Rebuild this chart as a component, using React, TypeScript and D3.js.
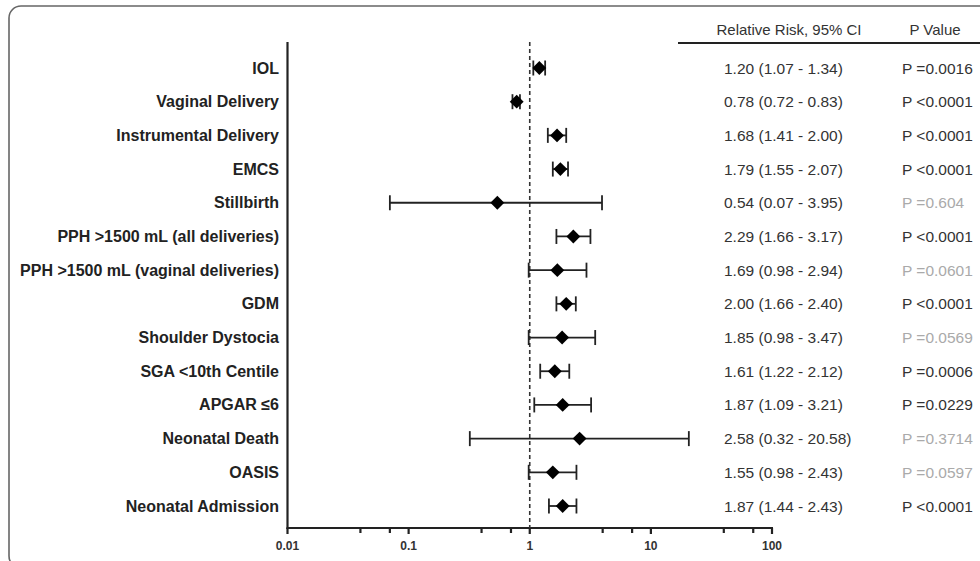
import React from "react";
import * as d3 from "d3";

const outcomes = [
  "IOL",
  "Vaginal Delivery",
  "Instrumental Delivery",
  "EMCS",
  "Stillbirth",
  "PPH >1500 mL (all deliveries)",
  "PPH >1500 mL (vaginal deliveries)",
  "GDM",
  "Shoulder Dystocia",
  "SGA <10th Centile",
  "APGAR ≤6",
  "Neonatal Death",
  "OASIS",
  "Neonatal Admission",
];
const rr = [1.2, 0.78, 1.68, 1.79, 0.54, 2.29, 1.69, 2.0, 1.85, 1.61, 1.87, 2.58, 1.55, 1.87];
const lower = [1.07, 0.72, 1.41, 1.55, 0.07, 1.66, 0.98, 1.66, 0.98, 1.22, 1.09, 0.32, 0.98, 1.44];
const upper = [1.34, 0.83, 2.0, 2.07, 3.95, 3.17, 2.94, 2.4, 3.47, 2.12, 3.21, 20.58, 2.43, 2.43];
const rrText = [
  "1.20 (1.07 - 1.34)",
  "0.78 (0.72 - 0.83)",
  "1.68 (1.41 - 2.00)",
  "1.79 (1.55 - 2.07)",
  "0.54 (0.07 - 3.95)",
  "2.29 (1.66 - 3.17)",
  "1.69 (0.98 - 2.94)",
  "2.00 (1.66 - 2.40)",
  "1.85 (0.98 - 3.47)",
  "1.61 (1.22 - 2.12)",
  "1.87 (1.09 - 3.21)",
  "2.58 (0.32 - 20.58)",
  "1.55 (0.98 - 2.43)",
  "1.87 (1.44 - 2.43)",
];
const pText = [
  "P =0.0016",
  "P <0.0001",
  "P <0.0001",
  "P <0.0001",
  "P =0.604",
  "P <0.0001",
  "P =0.0601",
  "P <0.0001",
  "P =0.0569",
  "P =0.0006",
  "P =0.0229",
  "P =0.3714",
  "P =0.0597",
  "P <0.0001",
];
const significant = [true, true, true, true, false, true, false, true, false, true, true, false, false, true];
const majorTicks = [0.01, 0.1, 1, 10, 100];
const majorTickLabels = ["0.01", "0.1", "1", "10", "100"];
const minorTicks = [0.04, 0.07, 0.4, 0.7, 4, 7, 40, 70];

export default function App() {
  const W = 980;
  const H = 561;
  const x = d3.scaleLog().domain([0.01, 100]).range([287.5, 772]);
  const y = d3.scaleLinear().domain([0, outcomes.length - 1]).range([68, 506]);
  const axisY = 528;
  const axisTop = 42;
  const font = "'Liberation Sans', Arial, Helvetica, sans-serif";
  const diamond = d3.symbol().type(d3.symbolSquare).size(96)();

  return (
    <svg
      width={W}
      height={H}
      style={{ position: "absolute", left: 0, top: 0, background: "#fff", fontFamily: font }}
    >
      <rect x={9} y={6} width={1100} height={562} rx={12} fill="none" stroke="#666" strokeWidth={1.6} />
      {/* y axis */}
      <line x1={x(0.01)} x2={x(0.01)} y1={axisTop} y2={axisY + 1} stroke="#222" strokeWidth={2.2} />
      {/* x axis */}
      <line x1={x(0.01) - 1} x2={x(100) + 1} y1={axisY} y2={axisY} stroke="#222" strokeWidth={2.2} />
      {majorTicks.map((t, i) => (
        <g key={"M" + i}>
          <line x1={x(t)} x2={x(t)} y1={axisY} y2={axisY + 6} stroke="#222" strokeWidth={2.2} />
          <text x={x(t)} y={550} textAnchor="middle" fontSize={12} fontWeight="bold" fill="#333">
            {majorTickLabels[i]}
          </text>
        </g>
      ))}
      {minorTicks.map((t, i) => (
        <line key={"m" + i} x1={x(t)} x2={x(t)} y1={axisY} y2={axisY + 5} stroke="#222" strokeWidth={2.2} />
      ))}
      {/* reference line */}
      <line x1={x(1)} x2={x(1)} y1={axisTop} y2={axisY} stroke="#333" strokeWidth={1.6} strokeDasharray="4,3" />
      {/* header */}
      <text x={789} y={35} textAnchor="middle" fontSize={15} fill="#333">
        Relative Risk, 95% CI
      </text>
      <text x={935} y={35} textAnchor="middle" fontSize={15} fill="#333">
        P Value
      </text>
      <line x1={678} x2={W} y1={43} y2={43} stroke="#222" strokeWidth={2} />
      {outcomes.map((name, i) => {
        const cy = y(i);
        return (
          <g key={name}>
            <text x={279} y={cy + 5.5} textAnchor="end" fontSize={16} fontWeight="bold" fill="#222">
              {name}
            </text>
            <line x1={x(lower[i])} x2={x(upper[i])} y1={cy} y2={cy} stroke="#222" strokeWidth={1.8} />
            <line x1={x(lower[i])} x2={x(lower[i])} y1={cy - 7.5} y2={cy + 7.5} stroke="#222" strokeWidth={1.8} />
            <line x1={x(upper[i])} x2={x(upper[i])} y1={cy - 7.5} y2={cy + 7.5} stroke="#222" strokeWidth={1.8} />
            <path d={diamond || ""} transform={`translate(${x(rr[i])},${cy}) rotate(45)`} fill="#000" />
            <text x={724} y={cy + 5.5} fontSize={15.5} fill="#333">
              {rrText[i]}
            </text>
            <text x={902} y={cy + 5.5} fontSize={15.5} fill={significant[i] ? "#333" : "#aaa"}>
              {pText[i]}
            </text>
          </g>
        );
      })}
    </svg>
  );
}
